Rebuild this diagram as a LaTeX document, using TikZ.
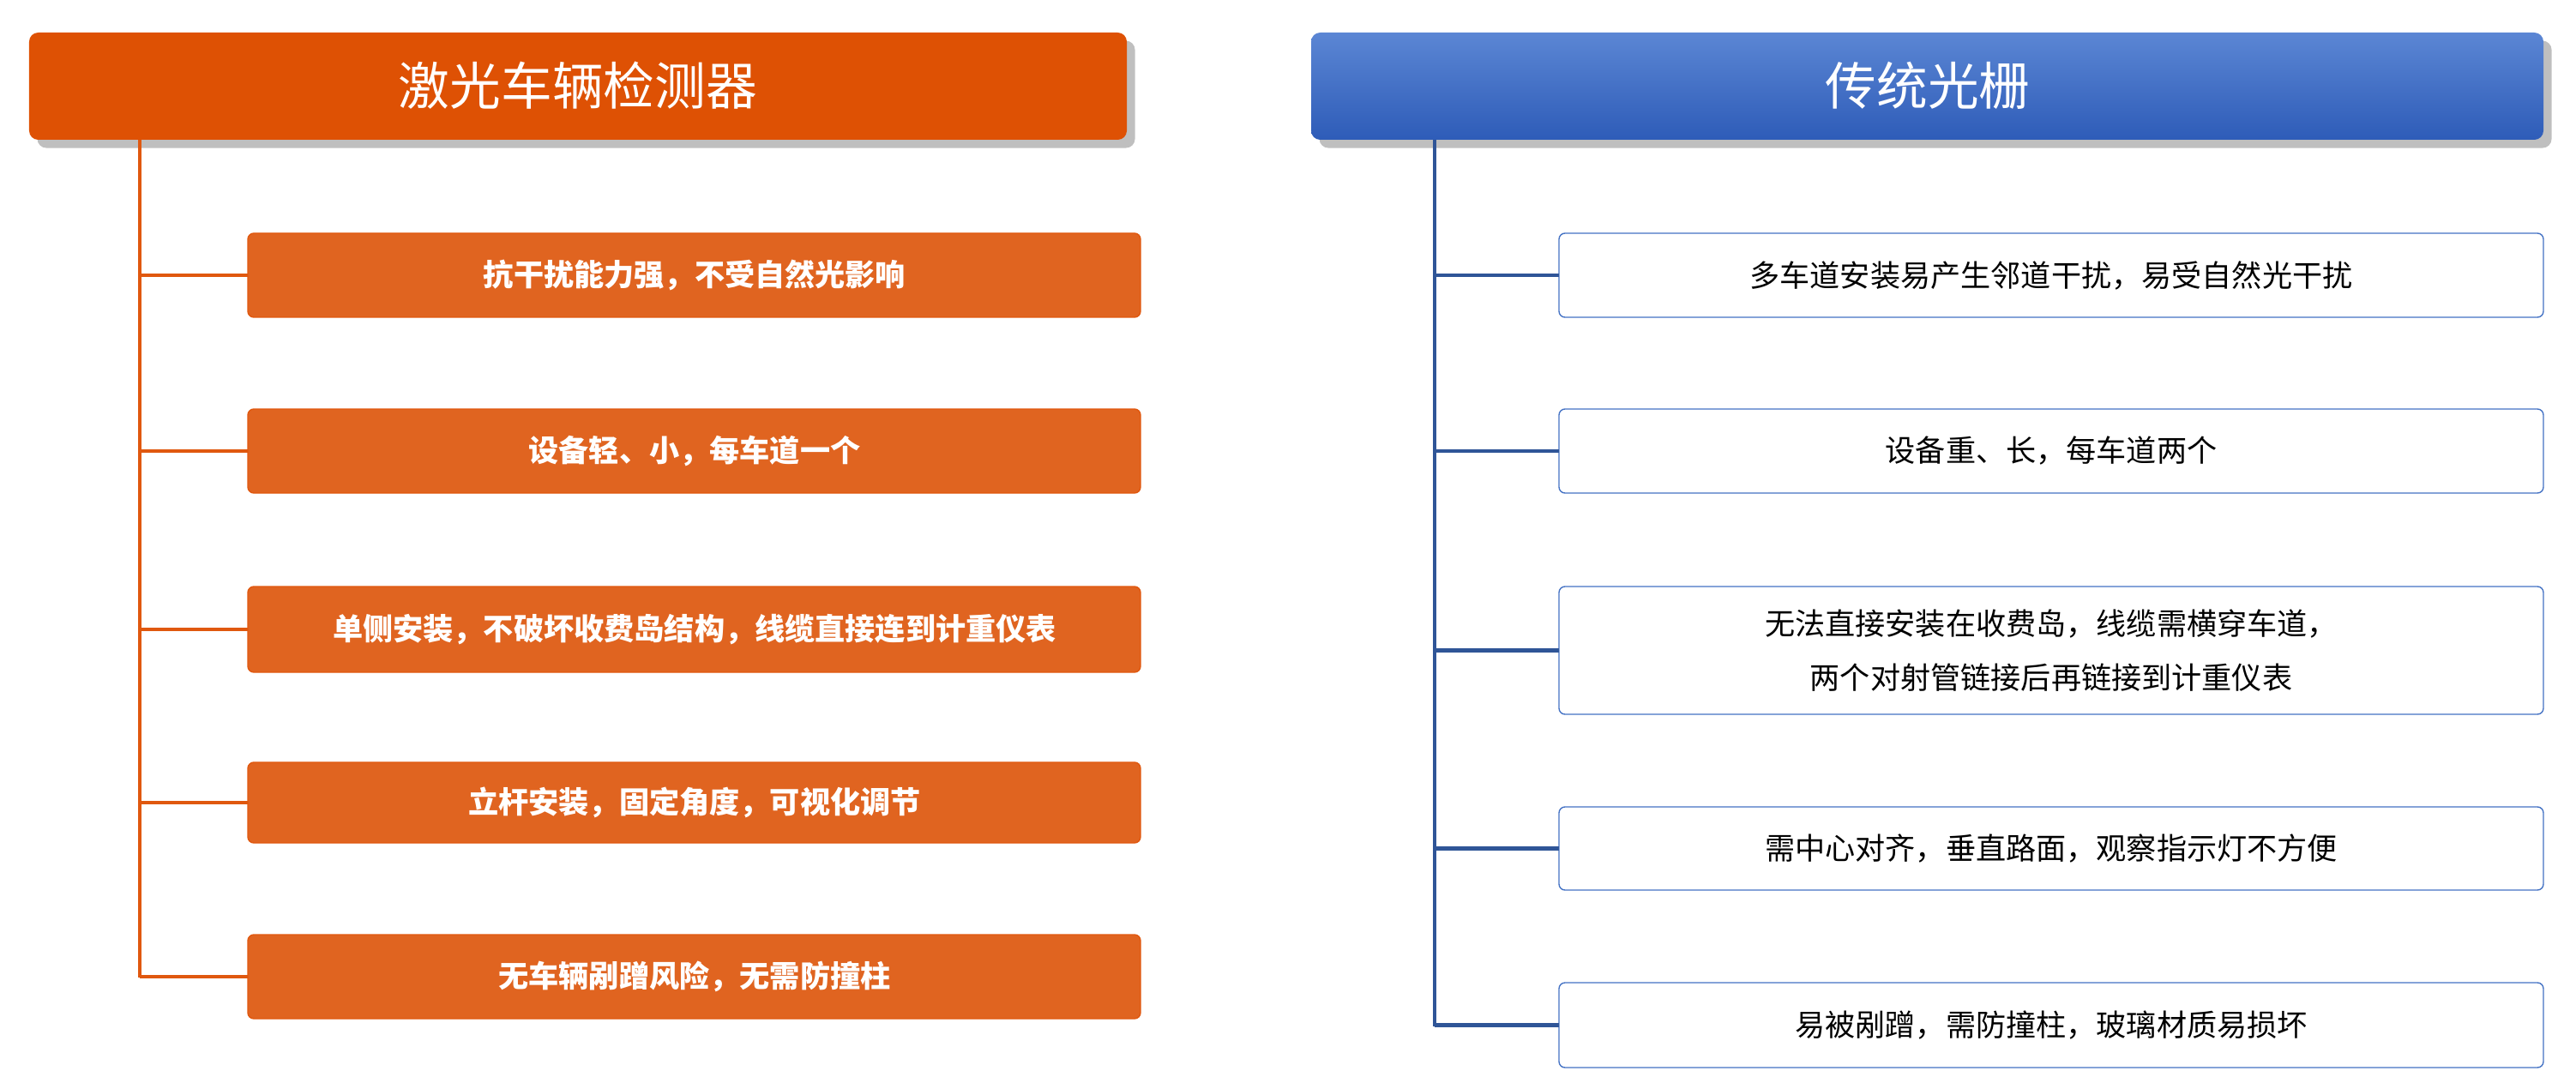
\documentclass[tikz,border=0pt]{standalone}
\usepackage{fontspec}
\setmainfont{Noto Sans CJK SC}
\usetikzlibrary{shadows}
\definecolor{lsOrange}{HTML}{DE5104}
\definecolor{lsBoxOrange}{HTML}{E06420}
\definecolor{lsLineOrange}{HTML}{E0580F}
\definecolor{lsBlueTop}{HTML}{5B86D4}
\definecolor{lsBlueBot}{HTML}{2E5CB8}
\definecolor{lsBoxBlue}{HTML}{4472C4}
\definecolor{lsLineBlue}{HTML}{2F5597}
\tikzset{
  headL/.style={fill=lsOrange, rounded corners=3pt, drop shadow},
  headR/.style={top color=lsBlueTop, bottom color=lsBlueBot, rounded corners=3pt, drop shadow},
  headtxt/.style={text=white, font=\fontsize{17}{20}\selectfont},
  itemL/.style={fill=lsBoxOrange, draw=lsLineOrange, rounded corners=2pt},
  itemR/.style={fill=white, draw=lsBoxBlue, rounded corners=2pt},
  txtL/.style={text=white, font=\fontsize{10}{12}\selectfont\bfseries},
  txtR/.style={text=black, font=\fontsize{10}{12}\selectfont, align=center},
}
\begin{document}
\begin{tikzpicture}[x=1cm,y=-1cm]
\useasboundingbox (0,0) rectangle (30.04,12.56);

% left column
\fill[headL] (0.34,0.38) rectangle (13.14,1.63);
\node[headtxt] (lh) at (6.74,1.0) {激光车辆检测器};
\coordinate (lt) at (1.63,1.63);
\coordinate (lb) at (1.63,11.40);
\draw[lsLineOrange, line width=1.2pt] (lt) -- (lb);
\foreach \name/\ya/\yb/\txt in {l1/2.72/3.70/{抗干扰能力强，不受自然光影响},
    l2/4.77/5.75/{设备轻、小，每车道一个},
    l3/6.84/7.84/{单侧安装，不破坏收费岛结构，线缆直接连到计重仪表},
    l4/8.89/9.83/{立杆安装，固定角度，可视化调节},
    l5/10.90/11.88/{无车辆剐蹭风险，无需防撞柱}} {
  \draw[itemL] (2.89,\ya) rectangle (13.30,\yb);
  \node[txtL] (\name) at (8.10,{(\ya+\yb)/2}) {\txt};
  \draw[lsLineOrange, line width=1.2pt] (1.63,{(\ya+\yb)/2}) -- (2.89,{(\ya+\yb)/2});
}

% right column
\shade[headR] (15.29,0.38) rectangle (29.66,1.63);
\node[headtxt] (rh) at (22.48,1.0) {传统光栅};
\coordinate (rt) at (16.73,1.63);
\coordinate (rb) at (16.73,11.97);
\draw[lsLineBlue, line width=1.2pt] (rt) -- (rb);
\foreach \name/\ya/\yb/\txt in {r1/2.72/3.70/{多车道安装易产生邻道干扰，易受自然光干扰},
    r2/4.77/5.75/{设备重、长，每车道两个},
    r3/6.84/8.33/{无法直接安装在收费岛，线缆需横穿车道，\\[6pt]两个对射管链接后再链接到计重仪表},
    r4/9.41/10.38/{需中心对齐，垂直路面，观察指示灯不方便},
    r5/11.46/12.45/{易被剐蹭，需防撞柱，玻璃材质易损坏}} {
  \draw[itemR] (18.18,\ya) rectangle (29.66,\yb);
  \node[txtR] (\name) at (23.92,{(\ya+\yb)/2}) {\txt};
  \draw[lsLineBlue, line width=1.2pt] (16.73,{(\ya+\yb)/2}) -- (18.18,{(\ya+\yb)/2});
}
\end{tikzpicture}
\end{document}
